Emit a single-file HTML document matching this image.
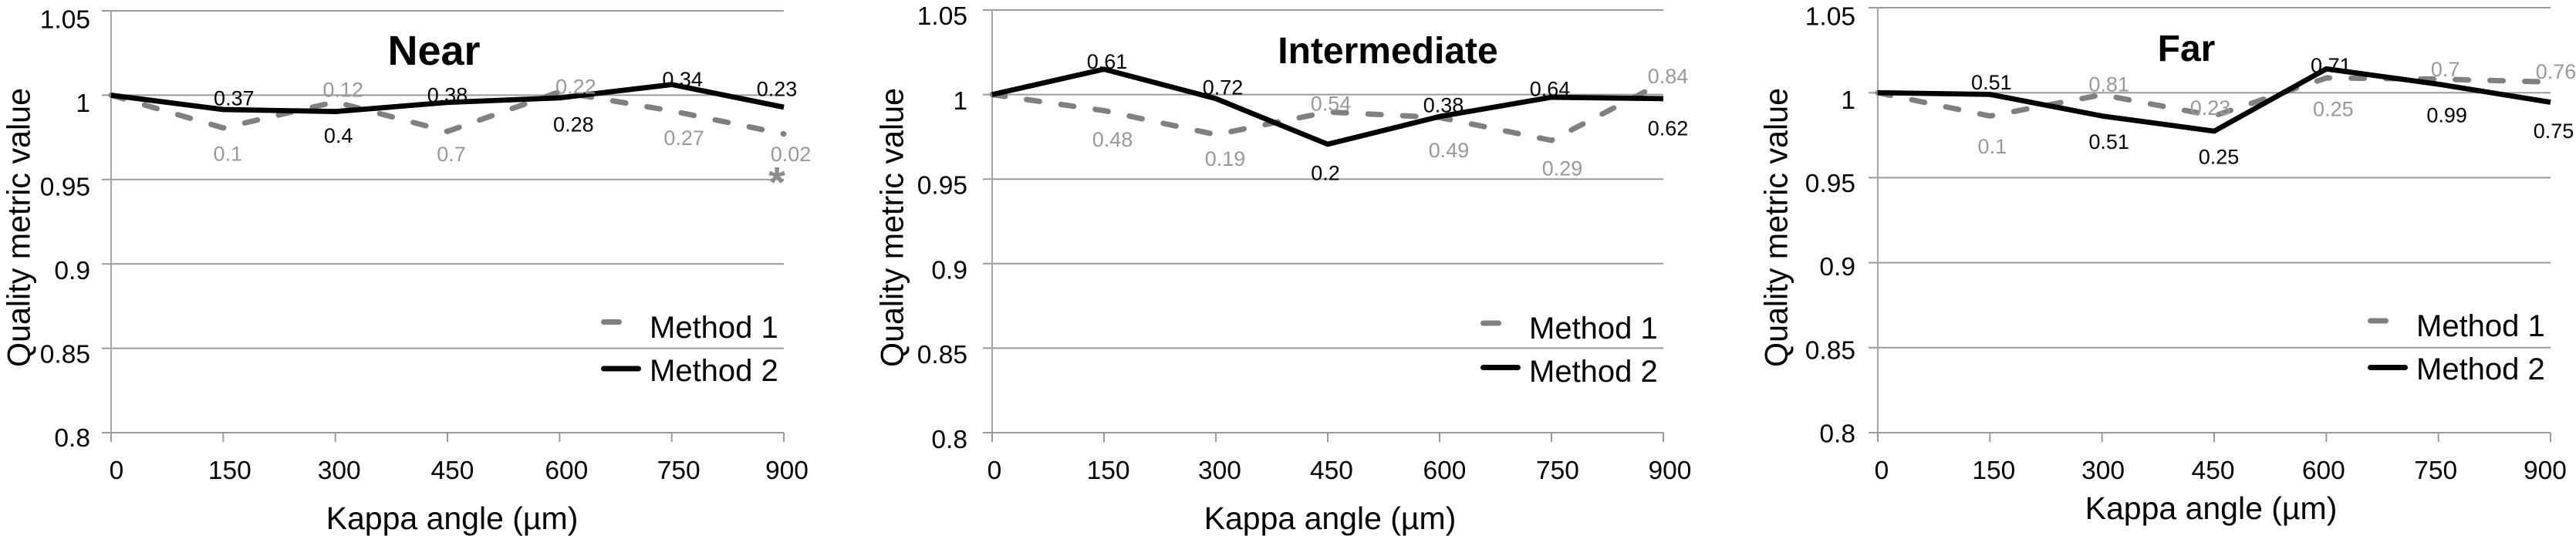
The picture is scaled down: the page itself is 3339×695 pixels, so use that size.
<!DOCTYPE html>
<html lang="en">
<head>
<meta charset="utf-8">
<title>Quality metric value vs Kappa angle</title>
<style>
html,body{margin:0;padding:0;background:#fff;}
body{width:3339px;height:695px;overflow:hidden;}
svg{display:block;font-family:"Liberation Sans",Arial,sans-serif;}
</style>
</head>
<body>
<svg id="figure" width="3339" height="695" viewBox="0 0 3339 695" xmlns="http://www.w3.org/2000/svg"></svg>
<script>
var categories = [0, 150, 300, 450, 600, 750, 900];
var yTicks = [0.8, 0.85, 0.9, 0.95, 1, 1.05];
var yTickLabels = ['0.8', '0.85', '0.9', '0.95', '1', '1.05'];
var seriesNames = ['Method 1', 'Method 2'];

var nearMethod1 = [1, 0.9806, 0.996, 0.9785, 1.002, 0.9907, 0.977];
var nearMethod2 = [1, 0.9915, 0.9903, 0.9957, 0.9984, 1.0063, 0.9929];
var intermediateMethod1 = [1, 0.9905, 0.9763, 0.9897, 0.9864, 0.9729, 1.0073];
var intermediateMethod2 = [1, 1.015, 0.9976, 0.9706, 0.987, 0.9984, 0.9976];
var farMethod1 = [1, 0.9863, 0.9988, 0.9863, 1.0087, 1.008, 1.0063];
var farMethod2 = [1, 0.999, 0.9863, 0.9774, 1.014, 1.005, 0.9944];

var nearLabels1 = ['', '0.1', '0.12', '0.7', '0.22', '0.27', '0.02'];
var nearLabels2 = ['', '0.37', '0.4', '0.38', '0.28', '0.34', '0.23'];
var intermediateLabels1 = ['', '0.48', '0.19', '0.54', '0.49', '0.29', '0.84'];
var intermediateLabels2 = ['', '0.61', '0.72', '0.2', '0.38', '0.64', '0.62'];
var farLabels1 = ['', '0.1', '0.81', '0.23', '0.25', '0.7', '0.76'];
var farLabels2 = ['', '0.51', '0.51', '0.25', '0.71', '0.99', '0.75'];

var layouts = {
  near: {title:'Near', titleSize:54, titleX:562.5, titleY:66, x0:144, x1:1016, yTop:14, yBottom:561,
    yTitleX:25, xTitleX:586, xTitleY:673, leg1:417.5, leg2:478, legT1:424, legT2:480,
    yLabelGap:27, yLabelTop:22.5, yLabelBottom:18,
    xTickShift:[7,8.5,5,6.4,9,9,4],
    nudge1:[[0,0],[6,33],[10,-16],[5,29],[21,-7],[16,35],[9,26]],
    nudge2:[[0,0],[14,-15],[4,31],[0,-10],[18,34],[14,-7],[-9,-24]]},
  intermediate: {title:'Intermediate', titleSize:48, titleX:1799, titleY:64, x0:1286, x1:2156, yTop:13, yBottom:561,
    yTitleX:1157, xTitleX:1724, xTitleY:673, leg1:419, leg2:476.5, legT1:425, legT2:481,
    yLabelGap:32, yLabelTop:19, yLabelBottom:20,
    xTickShift:[3,5.6,5,5,6.4,8,8.5],
    nudge1:[[0,0],[11,37],[12,31],[4,-11],[12,42],[14,36],[6,-8]],
    nudge2:[[0,0],[4,-10],[9,-15],[-3,37],[5,-15],[-2,-11],[6,38]]},
  far: {title:'Far', titleSize:48, titleX:2834, titleY:61, x0:2434, x1:3306, yTop:10, yBottom:561,
    yTitleX:2303, xTitleX:2866, xTitleY:660, leg1:416, leg2:476.5, legT1:422, legT2:478,
    yLabelGap:29, yLabelTop:22.6, yLabelBottom:12.5,
    xTickShift:[5,5,1.4,-1.4,-3.5,-3.5,-7],
    nudge1:[[0,0],[3,39],[9,-14],[-5,-11],[9,40],[9,-13],[7,-14]],
    nudge2:[[0,0],[2,-16],[9,33],[6,33],[6,-5],[11,40],[4,37]]}
};

var panels = [
  {key:'near', values1:nearMethod1, values2:nearMethod2, labels1:nearLabels1, labels2:nearLabels2},
  {key:'intermediate', values1:intermediateMethod1, values2:intermediateMethod2, labels1:intermediateLabels1, labels2:intermediateLabels2},
  {key:'far', values1:farMethod1, values2:farMethod2, labels1:farLabels1, labels2:farLabels2}
];

var NS = 'http://www.w3.org/2000/svg';
var fig = document.getElementById('figure');

function make(tag, attrs, parent, txt) {
  var el = document.createElementNS(NS, tag);
  for (var k in attrs) { el.setAttribute(k, attrs[k]); }
  if (txt !== undefined) { el.textContent = txt; }
  parent.appendChild(el);
  return el;
}

panels.forEach(function (p) {
  var L = layouts[p.key];
  var g = make('g', {}, fig);
  
  

  var xMax = categories[categories.length - 1];
  var xScale = function (v) { return L.x0 + (v / xMax) * (L.x1 - L.x0); };
  var yScale = function (v) { return L.yBottom - ((v - 0.8) / 0.25) * (L.yBottom - L.yTop); };

  yTicks.forEach(function (t, i) {
    var grid = make('line', {x1:L.x0 - 12, x2:L.x1, y1:yScale(t), y2:yScale(t), stroke:'#9a9a9a', 'stroke-width':2}, g);
    
    
    var frac = (yScale(t) - L.yTop) / (L.yBottom - L.yTop);
    var off = L.yLabelTop + (L.yLabelBottom - L.yLabelTop) * frac;
    var lab = make('text', {x:L.x0 - L.yLabelGap, y:yScale(t) + off, 'text-anchor':'end', 'font-size':33.5, fill:'#000'}, g, yTickLabels[i]);
    
    
  });

  var yAxis = make('line', {x1:L.x0, x2:L.x0, y1:L.yTop, y2:L.yBottom + 12, stroke:'#a6a6a6', 'stroke-width':2}, g);
  
  

  categories.forEach(function (c, i) {
    var tick = make('line', {x1:xScale(c), x2:xScale(c), y1:L.yBottom, y2:L.yBottom + 12, stroke:'#9a9a9a', 'stroke-width':2}, g);
    
    
    var lab = make('text', {x:xScale(c) + L.xTickShift[i], y:621, 'text-anchor':'middle', 'font-size':33.5, fill:'#000'}, g, String(c));
    
    
  });

  var pts1 = p.values1.map(function (v, i) { return xScale(categories[i]) + ',' + yScale(v); }).join(' ');
  var pts2 = p.values2.map(function (v, i) { return xScale(categories[i]) + ',' + yScale(v); }).join(' ');

  var line1 = make('polyline', {points:pts1, fill:'none', stroke:'#808080', 'stroke-width':7, 'stroke-dasharray':'17 28', 'stroke-linecap':'round', 'stroke-linejoin':'round'}, g);
  
  

  var line2 = make('polyline', {points:pts2, fill:'none', stroke:'#000', 'stroke-width':6.7, 'stroke-linejoin':'round'}, g);
  
  

  p.labels1.forEach(function (t, i) {
    if (!t) { return; }
    var lab = make('text', {x:xScale(categories[i]) + L.nudge1[i][0], y:yScale(p.values1[i]) + L.nudge1[i][1] + 9.5, 'text-anchor':'middle', 'font-size':27, fill:'#999'}, g, t);
    
    
  });
  p.labels2.forEach(function (t, i) {
    if (!t) { return; }
    var lab = make('text', {x:xScale(categories[i]) + L.nudge2[i][0], y:yScale(p.values2[i]) + L.nudge2[i][1] + 9.5, 'text-anchor':'middle', 'font-size':27, fill:'#000'}, g, t);
    
    
  });

  var title = make('text', {x:L.titleX, y:L.titleY + 18, 'text-anchor':'middle', 'font-size':L.titleSize, 'font-weight':'bold', fill:'#000'}, g, L.title);
  
  

  var yTitle = make('text', {x:0, y:0, transform:'translate(' + (L.yTitleX + 13.5) + ',295) rotate(-90)', 'text-anchor':'middle', 'font-size':42, textLength:362, lengthAdjust:'spacingAndGlyphs', fill:'#000'}, g, 'Quality metric value');
  
  

  var xTitle = make('text', {x:L.xTitleX, y:L.xTitleY + 13, 'text-anchor':'middle', 'font-size':41, fill:'#000'}, g, 'Kappa angle (\u00b5m)');
  
  

  var legSwatch1 = make('line', {x1:L.x1 - 233.5, x2:L.x1 - 213.5, y1:L.leg1, y2:L.leg1, stroke:'#808080', 'stroke-width':7, 'stroke-linecap':'round'}, g);
  
  
  var legText1 = make('text', {x:L.x1 - 174, y:L.legT1 + 14, 'font-size':40, fill:'#000'}, g, seriesNames[0]);
  
  
  var legSwatch2 = make('line', {x1:L.x1 - 233.5, x2:L.x1 - 188.5, y1:L.leg2, y2:L.leg2, stroke:'#000', 'stroke-width':7, 'stroke-linecap':'round'}, g);
  
  
  var legText2 = make('text', {x:L.x1 - 174, y:L.legT2 + 14, 'font-size':40, fill:'#000'}, g, seriesNames[1]);
  
  

  if (p.key === 'near') {
    var last = categories.length - 1;
    var star = make('text', {x:xScale(categories[last]) - 9, y:yScale(p.values1[last]) + 82, 'text-anchor':'middle', 'font-size':56, 'font-weight':'bold', fill:'#8c8c8c'}, g, '*');
    
    
  }
});
</script>
</body>
</html>
